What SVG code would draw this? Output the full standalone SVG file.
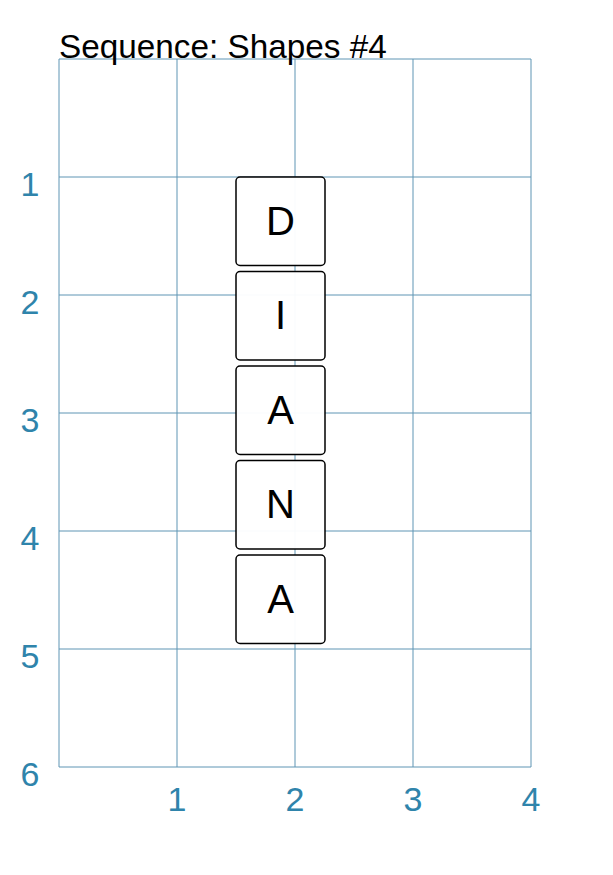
<svg xmlns="http://www.w3.org/2000/svg" width="613" height="875" viewBox="0 0 613 875">
<style>
.grid line{stroke:#5e95b4;stroke-width:1;fill:none}
.ax{font-family:"Liberation Sans",Arial,sans-serif;font-size:34px;fill:#2f84ab;text-anchor:middle}
.title{font-family:"Liberation Sans",Arial,sans-serif;font-size:33.3px;fill:#000}
.tile rect{fill:#fff;fill-opacity:0.96;stroke:#000;stroke-width:1.5}
.tile text{font-family:"Liberation Sans",Arial,sans-serif;font-size:40px;fill:#000;text-anchor:middle}
</style>
<rect width="613" height="875" fill="#fff"/>
<g class="grid">
<line x1="59" y1="59" x2="59" y2="767"/>
<line x1="177" y1="59" x2="177" y2="767"/>
<line x1="295" y1="59" x2="295" y2="767"/>
<line x1="413" y1="59" x2="413" y2="767"/>
<line x1="531" y1="59" x2="531" y2="767"/>
<line x1="59" y1="59" x2="531" y2="59"/>
<line x1="59" y1="177" x2="531" y2="177"/>
<line x1="59" y1="295" x2="531" y2="295"/>
<line x1="59" y1="413" x2="531" y2="413"/>
<line x1="59" y1="531" x2="531" y2="531"/>
<line x1="59" y1="649" x2="531" y2="649"/>
<line x1="59" y1="767" x2="531" y2="767"/>
</g>
<text class="title" x="59" y="58">Sequence: Shapes #4</text>
<g id="y-axis">
<text class="ax" x="30" y="195.5">1</text>
<text class="ax" x="30" y="313.5">2</text>
<text class="ax" x="30" y="431.5">3</text>
<text class="ax" x="30" y="549.5">4</text>
<text class="ax" x="30" y="667.5">5</text>
<text class="ax" x="30" y="785.5">6</text>
</g>
<g id="x-axis">
<text class="ax" x="177" y="810.5">1</text>
<text class="ax" x="295" y="810.5">2</text>
<text class="ax" x="413" y="810.5">3</text>
<text class="ax" x="531" y="810.5">4</text>
</g>
<g id="connectors"></g>
<g id="tile-D" class="tile"><rect x="236" y="177" width="89" height="88.5" rx="4"/><text x="280.5" y="234.5">D</text></g>
<g id="tile-I" class="tile"><rect x="236" y="271.5" width="89" height="88.5" rx="4"/><text x="280.5" y="329">I</text></g>
<g id="tile-A1" class="tile"><rect x="236" y="366" width="89" height="88.5" rx="4"/><text x="280.5" y="423.5">A</text></g>
<g id="tile-N" class="tile"><rect x="236" y="460.5" width="89" height="88.5" rx="4"/><text x="280.5" y="518">N</text></g>
<g id="tile-A2" class="tile"><rect x="236" y="555" width="89" height="88.5" rx="4"/><text x="280.5" y="612.5">A</text></g>
</svg>
